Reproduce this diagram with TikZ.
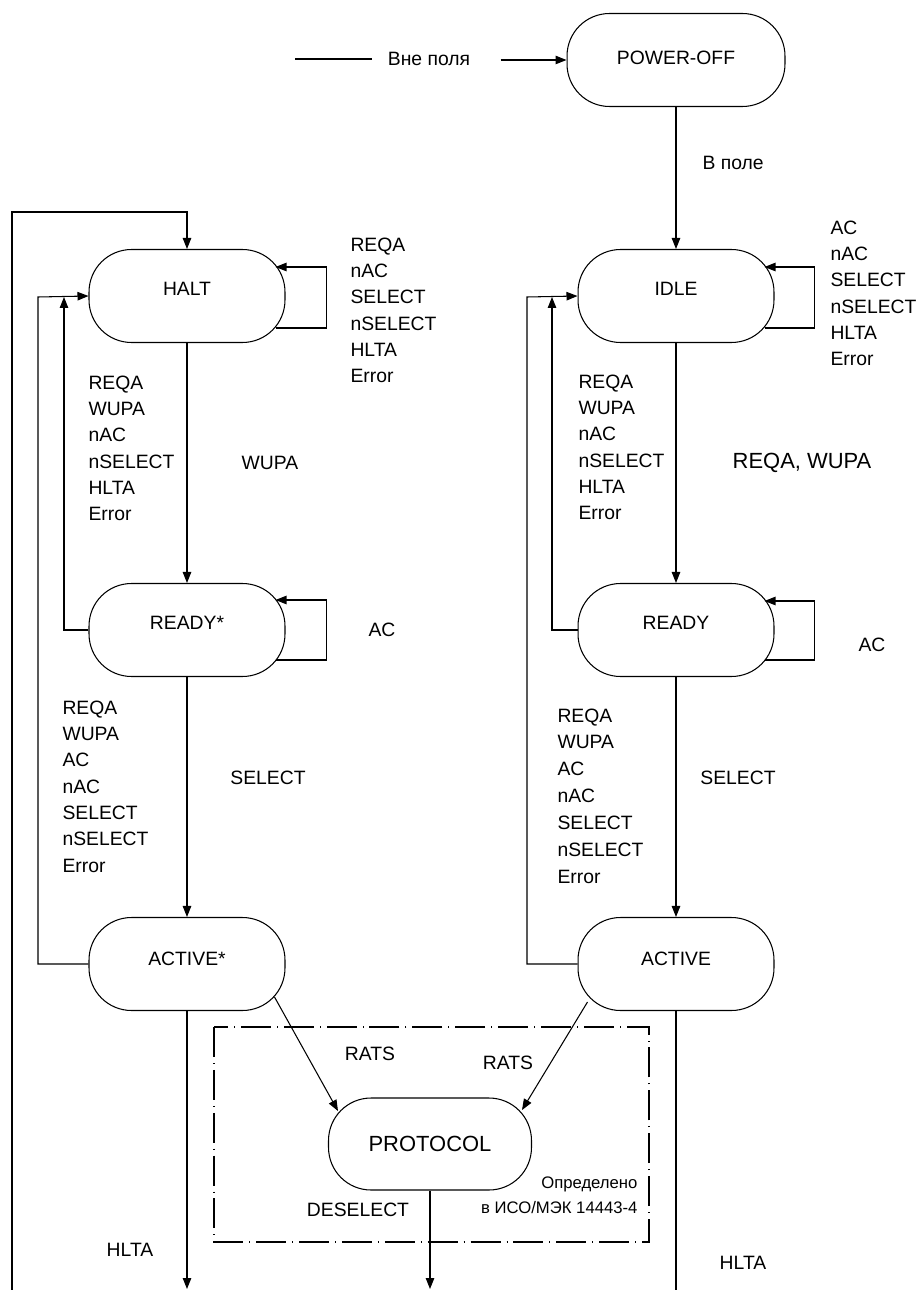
\documentclass[tikz,border=0pt]{standalone}
\usepackage{fontspec}
\setmainfont{Liberation Sans}
\usetikzlibrary{positioning,calc,arrows.meta}

\begin{document}
\begin{tikzpicture}[x=0.02cm,y=-0.02cm,line width=0.6pt,
    font=\fontsize{11}{15}\selectfont,
    state/.style={draw,rounded corners=0.85cm,minimum width=3.92cm,minimum height=1.86cm,inner sep=0pt},
    upper/.style={text depth=0.28cm},
    arr/.style={-{Triangle[length=0.22cm,width=0.17cm]}},
    lst/.style={align=left,anchor=north west,inner sep=0pt},
    lbl/.style={inner sep=0pt},
    frame/.style={dash pattern=on 6mm off 1.2mm on 0.5pt off 1.2mm}]
  \useasboundingbox (0,0) rectangle (921,1290);

  % States
  \node[state,minimum width=4.36cm,text depth=0.1cm] (poweroff) at (676,60) {POWER-OFF};
  \node[state,upper] (halt) at (187,296) {HALT};
  \node[state,upper] (readys) at (187,630) {READY*};
  \node[state,text depth=0.2cm] (actives) at (187,964) {ACTIVE*};
  \node[state,upper] (idle) at (676,296) {IDLE};
  \node[state,upper] (ready) at (676,630) {READY};
  \node[state,text depth=0.2cm] (active) at (676,964) {ACTIVE};
  \node[state,minimum width=4.06cm,minimum height=1.84cm,font=\fontsize{12.5}{15}\selectfont] (protocol) at (430,1144) {PROTOCOL};

  % Outside / inside the field
  \coordinate (legA) at (295,59);
  \coordinate (legB) at (372,59);
  \draw[line width=0.9pt] (legA) -- (legB);
  \node[lbl] (outfield) at (429,59) {Вне поля};
  \draw[arr] ($(outfield.east)+(30,1)$) -- (poweroff.west);
  \draw[arr] (poweroff.south) -- (idle.north);
  \node[lbl,anchor=west] (infield) at (702,163) {В поле};

  % Left column
  \coordinate (outB) at (12,1290);
  \coordinate (outT) at (12,212);
  \draw[arr] (outB) -- (outT) -| (halt.north);
  \draw[arr] (halt.south) -- (readys.north);
  \draw[arr] (readys.south) -- (actives.north);
  \draw[arr] ($(halt.east)+(-10,32)$) -- ++(51,0) |- ($(halt.east)+(-10,-29)$);
  \draw[arr] ($(readys.east)+(-10,30)$) -- ++(51,0) |- ($(readys.east)+(-10,-30)$);
  \coordinate (haltL) at (38,297);
  \coordinate (haltJ) at (64,297);
  \draw[arr] (actives.west) -| (haltL) -- (halt.west);
  \draw[arr] (readys.west) -| (haltJ);
  \node[lst] (haltself) at (350,237) {REQA\\nAC\\SELECT\\nSELECT\\HLTA\\Error};
  \node[lst] (haltrd) at (88,375) {REQA\\WUPA\\nAC\\nSELECT\\HLTA\\Error};
  \node[lbl] (wupa) at (270,463) {WUPA};
  \node[lbl] (readysself) at (382,630) {AC};
  \node[lst] (readysact) at (62,700) {REQA\\WUPA\\AC\\nAC\\SELECT\\nSELECT\\Error};
  \node[lbl] (selectL) at (268,778) {SELECT};

  % Right column
  \draw[arr] (idle.south) -- (ready.north);
  \draw[arr] (ready.south) -- (active.north);
  \draw[arr] ($(idle.east)+(-10,32)$) -- ++(50,0) |- ($(idle.east)+(-10,-29)$);
  \draw[arr] ($(ready.east)+(-10,30)$) -- ++(50,0) |- ($(ready.east)+(-10,-29)$);
  \coordinate (idleL) at (527,297);
  \coordinate (idleJ) at (552,297);
  \draw[arr] (active.west) -| (idleL) -- (idle.west);
  \draw[arr] (ready.west) -| (idleJ);
  \node[lst] (idleself) at (830,220) {AC\\nAC\\SELECT\\nSELECT\\HLTA\\Error};
  \node[lst] (idlerd) at (578,374) {REQA\\WUPA\\nAC\\nSELECT\\HLTA\\Error};
  \node[lbl,font=\fontsize{12.5}{15}\selectfont] (reqwup) at (802,463) {REQA, WUPA};
  \node[lbl] (readyself) at (872,645) {AC};
  \node[lst,font=\fontsize{11}{15.3}\selectfont] (readyact) at (557,708) {REQA\\WUPA\\AC\\nAC\\SELECT\\nSELECT\\Error};
  \node[lbl] (selectR) at (738,778) {SELECT};

  % Protocol part
  \draw[frame] (214,1027) rectangle (649,1242);
  \draw[arr] ($(actives.east)+(-11,33)$) -- ($(protocol.west)+(10,-33)$);
  \draw[arr] ($(active.west)+(10,38)$) -- ($(protocol.east)+(-10,-34)$);
  \node[lbl] (ratsL) at (370,1054) {RATS};
  \node[lbl] (ratsR) at (508,1063) {RATS};
  \node[lbl] (deselect) at (358,1210) {DESELECT};
  \node[lbl,anchor=east,font=\fontsize{9.5}{12}\selectfont] (defA) at (638,1184) {Определено};
  \node[lbl,anchor=east,font=\fontsize{9.5}{12}\selectfont] (defB) at (638,1208) {в ИСО/МЭК 14443-4};

  % Leaving to HALT
  \coordinate (hltaA) at (187,1289);
  \coordinate (deselB) at (430,1289);
  \coordinate (hltaC) at (676,1290);
  \draw[arr] (actives.south) -- (hltaA);
  \draw[arr] (protocol.south) -- (deselB);
  \draw (active.south) -- (hltaC);
  \node[lbl] (hltaL) at (130,1250) {HLTA};
  \node[lbl] (hltaR) at (743,1263) {HLTA};
\end{tikzpicture}
\end{document}
